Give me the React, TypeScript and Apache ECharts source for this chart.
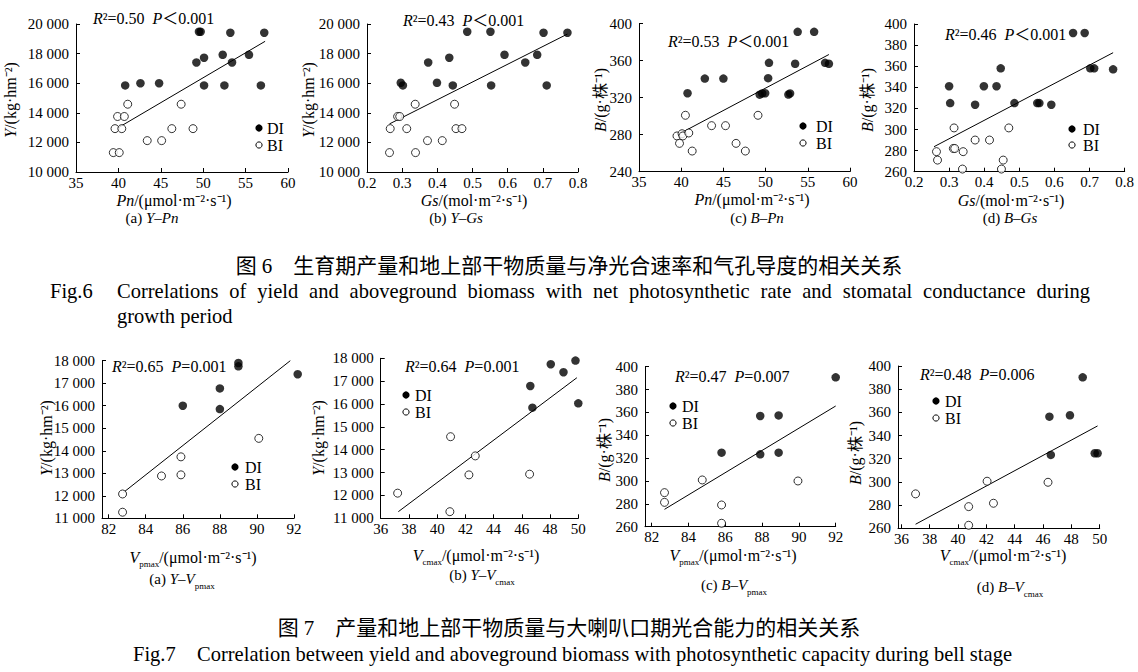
import React, { useEffect, useRef } from "react";
import * as echarts from "echarts";

type P = [number, number];

// ================= DATA =================
// Fig.6 (a) Y–Pn
const f6aDI: P[] = [[40.8, 15850], [42.6, 16000], [44.8, 16000], [49.5, 19480], [49.7, 19480], [53.2, 19410], [57.2, 19410], [49.2, 17400], [50.1, 17720], [52.3, 17920], [53.4, 17400], [55.4, 17920], [50.1, 15850], [52.5, 15850], [56.8, 15850]];
const f6aBI: P[] = [[39.4, 11310], [40.1, 11310], [39.6, 12930], [40.4, 12930], [39.9, 13750], [40.7, 13750], [41.1, 14580], [43.4, 12120], [45.1, 12120], [46.3, 12930], [47.4, 14580], [48.8, 12930]];
const f6aFit: P[] = [[40.0, 13000], [57.3, 18830]];
// Fig.6 (b) Y–Gs
const f6bDI: P[] = [[0.485, 19480], [0.551, 19480], [0.702, 19410], [0.77, 19410], [0.591, 17920], [0.684, 17920], [0.374, 17400], [0.434, 17720], [0.65, 17400], [0.296, 16030], [0.302, 15850], [0.399, 16030], [0.444, 15850], [0.553, 15850], [0.711, 15850]];
const f6bBI: P[] = [[0.264, 11310], [0.338, 11310], [0.266, 12930], [0.313, 12930], [0.453, 12930], [0.47, 12930], [0.287, 13750], [0.293, 13750], [0.337, 14580], [0.449, 14580], [0.372, 12120], [0.414, 12120]];
const f6bFit: P[] = [[0.264, 13250], [0.77, 19320]];
// Fig.6 (c) B–Pn
const f6cDI: P[] = [[53.8, 391], [55.75, 391], [50.4, 357.5], [53.5, 356.5], [57.05, 357.5], [57.5, 356.5], [42.8, 340.5], [45.0, 340.5], [50.3, 341], [40.75, 324.7], [49.3, 323.2], [49.6, 324.5], [49.95, 324.7], [52.7, 323.3], [52.9, 324.5]];
const f6cBI: P[] = [[40.5, 300.9], [49.1, 300.9], [43.6, 289.7], [45.25, 289.7], [39.5, 278.6], [40.1, 281], [40.2, 278.6], [40.9, 281.8], [39.8, 270.6], [46.5, 270.6], [41.3, 262.3], [47.6, 262.3]];
const f6cFit: P[] = [[40.2, 282.9], [57.5, 366.5]];
// Fig.6 (d) B–Gs
const f6dDI: P[] = [[0.653, 391.5], [0.686, 391.5], [0.702, 358], [0.713, 358], [0.767, 357], [0.447, 358], [0.30, 341], [0.399, 341], [0.435, 341], [0.303, 325], [0.486, 325], [0.551, 325], [0.557, 325], [0.374, 323.5], [0.591, 323.5]];
const f6dBI: P[] = [[0.264, 279], [0.267, 271], [0.314, 301.5], [0.312, 282], [0.316, 282], [0.34, 279], [0.338, 262.5], [0.374, 290], [0.415, 290], [0.47, 301.5], [0.454, 271], [0.449, 262.5]];
const f6dFit: P[] = [[0.257, 283.7], [0.767, 372.8]];
// Fig.7 (a) Y–Vpmax
const f7aDI: P[] = [[89.0, 17900], [89.0, 17750], [88.0, 16770], [88.0, 15850], [86.0, 16000], [92.2, 17400]];
const f7aBI: P[] = [[82.75, 12080], [82.75, 11270], [84.85, 12880], [85.9, 12930], [85.9, 13730], [90.1, 14550]];
const f7aFit: P[] = [[82.8, 12150], [91.8, 18000]];
// Fig.7 (b) Y–Vcmax
const f7bDI: P[] = [[48.05, 17740], [48.95, 17390], [49.8, 17900], [46.6, 16790], [46.75, 15840], [50.0, 16030]];
const f7bBI: P[] = [[37.2, 12100], [40.95, 14570], [40.9, 11290], [42.25, 12900], [42.7, 13730], [46.55, 12930]];
const f7bFit: P[] = [[37.25, 11290], [49.9, 17150]];
// Fig.7 (c) B–Vpmax
const f7cDI: P[] = [[92.0, 390.7], [87.9, 356.9], [88.9, 357.4], [85.8, 324.8], [87.9, 323.3], [88.9, 324.8]];
const f7cBI: P[] = [[82.7, 289.8], [82.7, 281.3], [84.75, 300.9], [85.8, 279], [85.8, 263], [89.95, 300]];
const f7cFit: P[] = [[82.7, 275.2], [92.0, 365.6]];
// Fig.7 (d) B–Vcmax
const f7dDI: P[] = [[48.8, 390.2], [46.45, 356.3], [47.9, 357.5], [46.55, 323.3], [49.65, 324.7], [49.85, 324.7]];
const f7dBI: P[] = [[37.0, 289.7], [40.75, 278.7], [40.75, 262.6], [42.05, 300.6], [42.5, 281.6], [46.35, 299.7]];
const f7dFit: P[] = [[37.0, 263.5], [49.85, 348.3]];

// Axis ranges / ticks
const xPnRange = [35, 60, 5];
const xGsRange = [0.2, 0.8, 0.1];
const xVpTicks = [82, 84, 86, 88, 90, 92];
const xVcTicks = [36, 38, 40, 42, 44, 46, 48, 50];
const yYieldTop = [10000, 20000, 2000];
const yBPn = [240, 400, 40];
const yBGs = [260, 400, 20];
const yYieldBottom = [11000, 18000, 1000];
const yBBottom = [260, 400, 20];

// Statistics text
const stats = [
  ["0.50", "＜0.001"], ["0.43", "＜0.001"], ["0.53", "＜0.001"], ["0.46", "＜0.001"],
  ["0.65", "=0.001"], ["0.64", "=0.001"], ["0.47", "=0.007"], ["0.48", "=0.006"],
];
const panelLetters = ["(a)", "(b)", "(c)", "(d)", "(a)", "(b)", "(c)", "(d)"];

// ================= LAYOUT / STYLE =================
const SERIF = '"Liberation Serif", "Times New Roman", "Noto Sans CJK SC", serif';
const CJK = '"Liberation Serif", "Noto Sans CJK SC", serif';

const GRIDS = [
  { left: 76, top: 24, width: 212, height: 148 },
  { left: 367, top: 24, width: 211, height: 148 },
  { left: 639, top: 23.5, width: 211, height: 148.2 },
  { left: 914, top: 24, width: 210.7, height: 147.7 },
  { left: 102, top: 360.7, width: 192, height: 157.6 },
  { left: 380.7, top: 358.3, width: 197.6, height: 160 },
  { left: 645, top: 366.7, width: 190.7, height: 160 },
  { left: 898, top: 366, width: 201.7, height: 162.3 },
];

const ANNOT_POS = [[93, 18], [403, 20], [668, 41], [945, 34], [112, 366], [405, 366], [675, 376], [920, 374]];
const LEGEND_POS: (null | number[])[] = [
  // dotX, dotY, circleY, textX
  [259, 128, 145, 267], null, [803, 126, 143, 816], [1072, 129, 145, 1083],
  [235, 467, 484, 245], [406, 395, 412, 415], [673, 406, 423, 682], [936, 401, 418, 945],
];
const YTITLE_POS = [[10, 100], [308, 100], [600, 100], [867, 100], [46, 438], [318, 438], [604, 450], [855, 453]];
const XTITLE_POS = [[174, 200], [474, 200], [752, 199], [1011, 200], [193, 557], [476, 555], [733, 555], [1003, 555]];
const CAPTION_POS = [[152, 218], [456, 218], [757, 218], [1010, 218], [182, 579], [482, 575], [734, 585], [1010, 587]];

const thousands = (v: number) => {
  if (v >= 1000) {
    const k = Math.floor(v / 1000);
    const r = Math.round(v % 1000);
    return `${k} ${String(r).padStart(3, "0")}`;
  }
  return String(v);
};

const richBase = (size: number) => ({
  i: { fontStyle: "italic", fontSize: size, fontFamily: SERIF, fill: "#000", color: "#000" },
  s: { fontSize: 9, fontFamily: SERIF, verticalAlign: "bottom", lineHeight: 11, fill: "#000", color: "#000" },
});

function buildOption() {
  const data = [
    [f6aDI, f6aBI, f6aFit], [f6bDI, f6bBI, f6bFit], [f6cDI, f6cBI, f6cFit], [f6dDI, f6dBI, f6dFit],
    [f7aDI, f7aBI, f7aFit], [f7bDI, f7bBI, f7bFit], [f7cDI, f7cBI, f7cFit], [f7dDI, f7dBI, f7dFit],
  ];
  const yNames = ["Y", "Y", "B", "B", "Y", "Y", "B", "B"];
  const xKinds = ["Pn", "Gs", "Pn", "Gs", "Vp", "Vc", "Vp", "Vc"];

  const axisCommon = {
    axisLine: { onZero: false, lineStyle: { color: "#000", width: 1 } },
    axisTick: { inside: true, length: 4, lineStyle: { color: "#000", width: 1 } },
    splitLine: { show: false },
  };

  const xAxes: any[] = [];
  const yAxes: any[] = [];
  for (let i = 0; i < 8; i++) {
    const kind = xKinds[i];
    const xa: any = {
      type: "value", gridIndex: i, ...axisCommon,
      axisTick: { ...axisCommon.axisTick },
      axisLabel: { color: "#000", fontSize: 15, fontFamily: SERIF, margin: 3 },
    };
    if (kind === "Pn") { xa.min = xPnRange[0]; xa.max = xPnRange[1]; xa.interval = xPnRange[2]; }
    if (kind === "Gs") { xa.min = xGsRange[0]; xa.max = xGsRange[1]; xa.interval = xGsRange[2]; xa.axisLabel.formatter = (v: number) => v.toFixed(1); }
    if (kind === "Vp") {
      xa.min = 81.64; xa.max = 92;
      xa.axisTick.customValues = xVpTicks; xa.axisLabel.customValues = xVpTicks;
    }
    if (kind === "Vc") {
      xa.min = i === 7 ? 35.76 : 36; xa.max = 50;
      xa.axisTick.customValues = xVcTicks; xa.axisLabel.customValues = xVcTicks;
    }
    xAxes.push(xa);

    const yr = [yYieldTop, yYieldTop, yBPn, yBGs, yYieldBottom, yYieldBottom, yBBottom, yBBottom][i];
    yAxes.push({
      type: "value", gridIndex: i, min: yr[0], max: yr[1], interval: yr[2], ...axisCommon,
      axisLabel: { color: "#000", fontSize: 15, fontFamily: SERIF, margin: 7, formatter: thousands },
    });
  }

  const series: any[] = [];
  data.forEach(([di, bi, fit], i) => {
    series.push({
      type: "line", xAxisIndex: i, yAxisIndex: i, data: fit, symbol: "none", silent: true, clip: false,
      lineStyle: { color: "#000", width: 1 }, z: 1,
    });
    series.push({
      type: "scatter", name: "BI", xAxisIndex: i, yAxisIndex: i, data: bi, symbol: "circle", symbolSize: 8, clip: false,
      itemStyle: { color: "#fff", borderColor: "#000", borderWidth: 1 }, z: 2,
    });
    series.push({
      type: "scatter", name: "DI", xAxisIndex: i, yAxisIndex: i, data: di, symbol: "circle", symbolSize: 8.5, clip: false,
      itemStyle: { color: "#000" }, z: 3,
    });
  });

  const graphics: any[] = [];
  const txt = (x: number, y: number, text: string, size: number, opts: any = {}) => ({
    type: "text", x, y, rotation: opts.rotation || 0, scaleX: opts.scaleX || 1, z: 10,
    style: {
      text, fontSize: size, fontFamily: opts.font || SERIF, fill: "#000",
      align: opts.align || "left", verticalAlign: "middle",
      textAlign: opts.align || "left", textVerticalAlign: "middle",
      lineHeight: opts.lineHeight, rich: opts.rich,
    },
  });

  for (let i = 0; i < 8; i++) {
    const [r2, p] = stats[i];
    graphics.push(txt(ANNOT_POS[i][0], ANNOT_POS[i][1], `{i|R}²=${r2}  {i|P}${p}`, 16, { rich: richBase(16) }));
    const lg = LEGEND_POS[i];
    if (lg) {
      graphics.push({ type: "circle", z: 10, shape: { cx: lg[0], cy: lg[1], r: 3.6 }, style: { fill: "#000" } });
      graphics.push({ type: "circle", z: 10, shape: { cx: lg[0], cy: lg[2], r: 3.1 }, style: { fill: "#fff", stroke: "#000", lineWidth: 1 } });
      graphics.push(txt(lg[3], lg[1], "DI", 16));
      graphics.push(txt(lg[3], lg[2], "BI", 16));
    }
    const yt = yNames[i] === "Y" ? "{i|Y}/(kg·hm⁻²)" : "{i|B}/(g·株⁻¹)";
    graphics.push(txt(YTITLE_POS[i][0], YTITLE_POS[i][1], yt, 16, { align: "center", rotation: Math.PI / 2, rich: richBase(16) }));
    const kind = xKinds[i];
    const xt = kind === "Pn" ? "{i|Pn}/(μmol·m⁻²·s⁻¹)"
      : kind === "Gs" ? "{i|Gs}/(mol·m⁻²·s⁻¹)"
        : kind === "Vp" ? "{i|V}{s|pmax}/(μmol·m⁻²·s⁻¹)"
          : "{i|V}{s|cmax}/(μmol·m⁻²·s⁻¹)";
    graphics.push(txt(XTITLE_POS[i][0], XTITLE_POS[i][1], xt, 16, { align: "center", rich: richBase(16), lineHeight: i >= 4 ? 24 : undefined }));
    const xs = kind === "Pn" ? "{i|Pn}" : kind === "Gs" ? "{i|Gs}" : kind === "Vp" ? "{i|V}{s|pmax}" : "{i|V}{s|cmax}";
    const cap = `${panelLetters[i]} {i|${yNames[i]}}–${xs}`;
    graphics.push(txt(CAPTION_POS[i][0], CAPTION_POS[i][1], cap, 15, { align: "center", rich: richBase(15), lineHeight: i >= 4 ? 24 : undefined }));
  }

  // figure captions (Chinese)
  graphics.push(txt(569, 266, "图 6　生育期产量和地上部干物质量与净光合速率和气孔导度的相关关系", 21, { align: "center", font: CJK }));
  graphics.push(txt(569, 628, "图 7　产量和地上部干物质量与大喇叭口期光合能力的相关关系", 21, { align: "center", font: CJK }));

  // English captions: condensed serif (scaled), justified word by word
  const EN_SIZE = 21;
  const ctx = document.createElement("canvas").getContext("2d")!;
  ctx.font = `${EN_SIZE}px "Liberation Serif"`;
  const fig7Text = "Correlation between yield and aboveground biomass with photosynthetic capacity during bell stage";
  const natural7 = ctx.measureText(fig7Text).width;
  let sx = (1012 - 197) / natural7;
  sx = Math.max(0.7, Math.min(1.05, sx));
  const justify = (text: string, x0: number, x1: number, y: number) => {
    const words = text.split(" ");
    const widths = words.map((w) => ctx.measureText(w).width * sx);
    const total = widths.reduce((a, b) => a + b, 0);
    const gap = (x1 - x0 - total) / (words.length - 1);
    let x = x0;
    words.forEach((w, k) => {
      graphics.push(txt(x, y, w, EN_SIZE, { scaleX: sx }));
      x += widths[k] + gap;
    });
  };
  graphics.push(txt(50, 291, "Fig.6", EN_SIZE, { scaleX: sx }));
  justify("Correlations of yield and aboveground biomass with net photosynthetic rate and stomatal conductance during", 117, 1090, 291);
  graphics.push(txt(117, 316, "growth period", EN_SIZE, { scaleX: sx }));
  graphics.push(txt(133, 654, "Fig.7", EN_SIZE, { scaleX: sx }));
  justify(fig7Text, 197, 1012, 654);

  return {
    animation: false,
    backgroundColor: "#fff",
    grid: GRIDS.map((g) => ({ ...g, containLabel: false })),
    xAxis: xAxes,
    yAxis: yAxes,
    series,
    graphic: graphics,
  };
}

export default function App() {
  const ref = useRef<HTMLDivElement>(null);
  useEffect(() => {
    if (!ref.current) return;
    const chart = echarts.init(ref.current, null, { renderer: "svg" });
    chart.setOption(buildOption());
    return () => chart.dispose();
  }, []);
  return (
    <div
      ref={ref}
      style={{ position: "fixed", left: 0, top: 0, width: 1138, height: 672, background: "#fff" }}
    />
  );
}
